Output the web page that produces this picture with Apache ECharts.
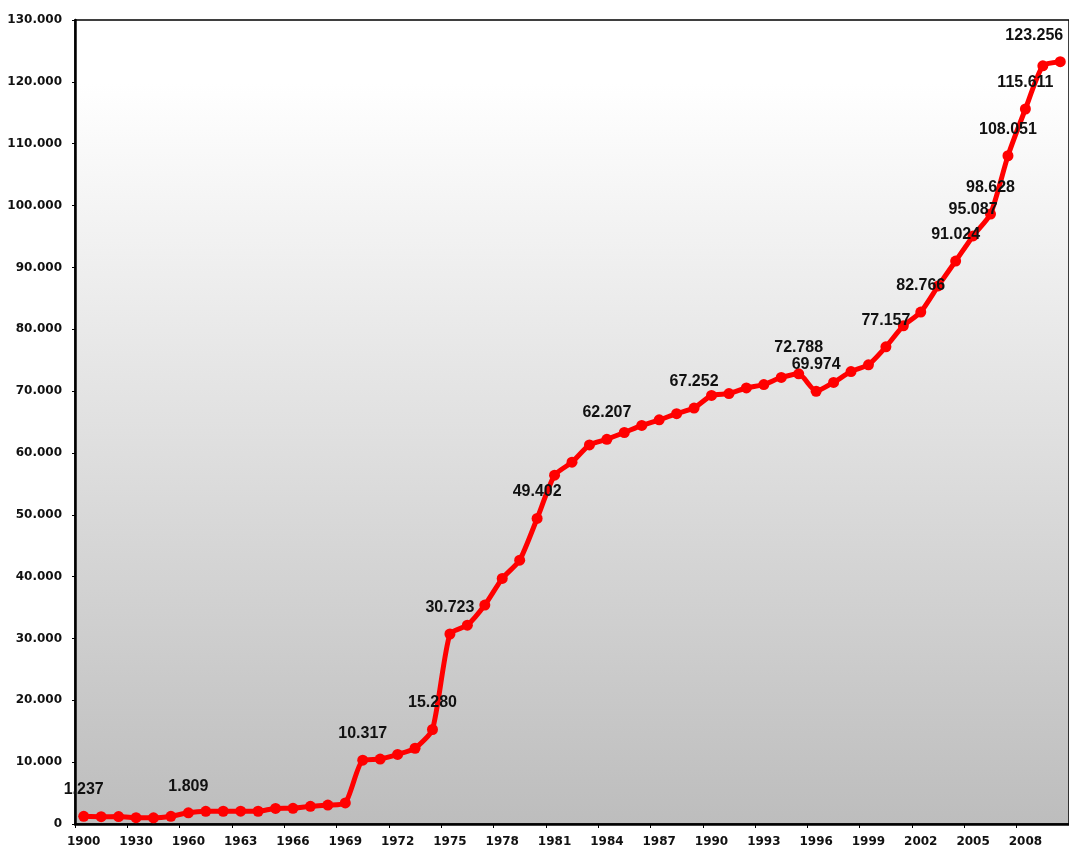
<!DOCTYPE html>
<html>
<head>
<meta charset="utf-8">
<script src="https://cdn.jsdelivr.net/npm/echarts@6/dist/echarts.min.js"></script>
<style>
  html, body { margin: 0; padding: 0; background: #fff; }
  #main { width: 1069px; height: 848px; }
</style>
</head>
<body>
<div id="main"></div>
<script>
const years = [
  '1900', '1910', '1920', '1930', '1940', '1950',
  '1960', '1961', '1962', '1963', '1964', '1965', '1966', '1967', '1968', '1969',
  '1970', '1971', '1972', '1973', '1974', '1975', '1976', '1977', '1978', '1979',
  '1980', '1981', '1982', '1983', '1984', '1985', '1986', '1987', '1988', '1989',
  '1990', '1991', '1992', '1993', '1994', '1995', '1996', '1997', '1998', '1999',
  '2000', '2001', '2002', '2003', '2004', '2005', '2006', '2007', '2008', '2009',
  '2010'
];
const values = [
  1237, 1180, 1200, 1020, 1000, 1250,
  1809, 2050, 2060, 2070, 2060, 2520, 2540, 2850, 3060, 3400,
  10317, 10500, 11250, 12250, 15280, 30723, 32150, 35400, 39700, 42650,
  49402, 56400, 58500, 61300, 62207, 63300, 64450, 65350, 66350, 67252,
  69300, 69600, 70500, 71050, 72200, 72788, 69974, 71400, 73150, 74250,
  77157, 80550, 82766, 87000, 91024, 95087, 98628, 108051, 115611, 122600,
  123256
];
// years whose value is written above the point
const labelledYears = ['1900', '1960', '1970', '1974', '1975', '1980', '1984', '1989',
  '1995', '1996', '2000', '2002', '2004', '2005', '2006', '2007', '2008', '2010'];

function fmt(v) {
  return String(v).replace(/\B(?=(\d{3})+(?!\d))/g, '.');
}

const seriesData = values.map(function (v, i) {
  const item = { value: v };
  if (labelledYears.indexOf(years[i]) >= 0) {
    item.label = { show: true };
    if (years[i] === '2010') item.label.offset = [-26, 0];
  }
  return item;
});

const myChart = echarts.init(document.getElementById('main'));
const option = {
  backgroundColor: '#ffffff',
  animation: false,
  grid: {
    left: 75,
    top: 20,
    width: 996,
    bottom: 23,
    show: true,
    borderColor: '#000',
    borderWidth: 1.5,
    backgroundColor: {
      type: 'linear', x: 0, y: 0, x2: 0, y2: 1,
      colorStops: [
        { offset: 0, color: '#ffffff' },
        { offset: 0.08, color: '#ffffff' },
        { offset: 1, color: '#bdbdbd' }
      ]
    }
  },
  xAxis: {
    type: 'category',
    data: years,
    boundaryGap: true,
    axisLine: { lineStyle: { color: '#000', width: 2.5 } },
    axisTick: { show: true, interval: 2, length: 4, lineStyle: { color: '#000', width: 1 } },
    axisLabel: {
      interval: 2,
      margin: 12,
      color: '#111',
      fontFamily: 'DejaVu Sans',
      fontWeight: 'bold',
      fontSize: 12
    },
    splitLine: { show: false }
  },
  yAxis: {
    type: 'value',
    min: 0,
    max: 130000,
    interval: 10000,
    axisLine: { show: true, lineStyle: { color: '#000', width: 2.5 } },
    axisTick: { show: true, length: 3, lineStyle: { color: '#000', width: 1 } },
    axisLabel: {
      margin: 13,
      color: '#111',
      fontFamily: 'DejaVu Sans',
      fontWeight: 'bold',
      fontSize: 12,
      formatter: fmt
    },
    splitLine: { show: false }
  },
  series: [
    {
      type: 'line',
      data: seriesData,
      smooth: 0.2,
      symbol: 'circle',
      symbolSize: 11,
      lineStyle: { color: '#ff0000', width: 5 },
      itemStyle: { color: '#ff0000' },
      label: {
        show: false,
        position: 'top',
        distance: 13,
        color: '#111',
        fontFamily: 'Liberation Sans',
        fontWeight: 'bold',
        fontSize: 16,
        formatter: function (p) { return fmt(p.value); }
      }
    }
  ]
};
myChart.setOption(option);
</script>
</body>
</html>
